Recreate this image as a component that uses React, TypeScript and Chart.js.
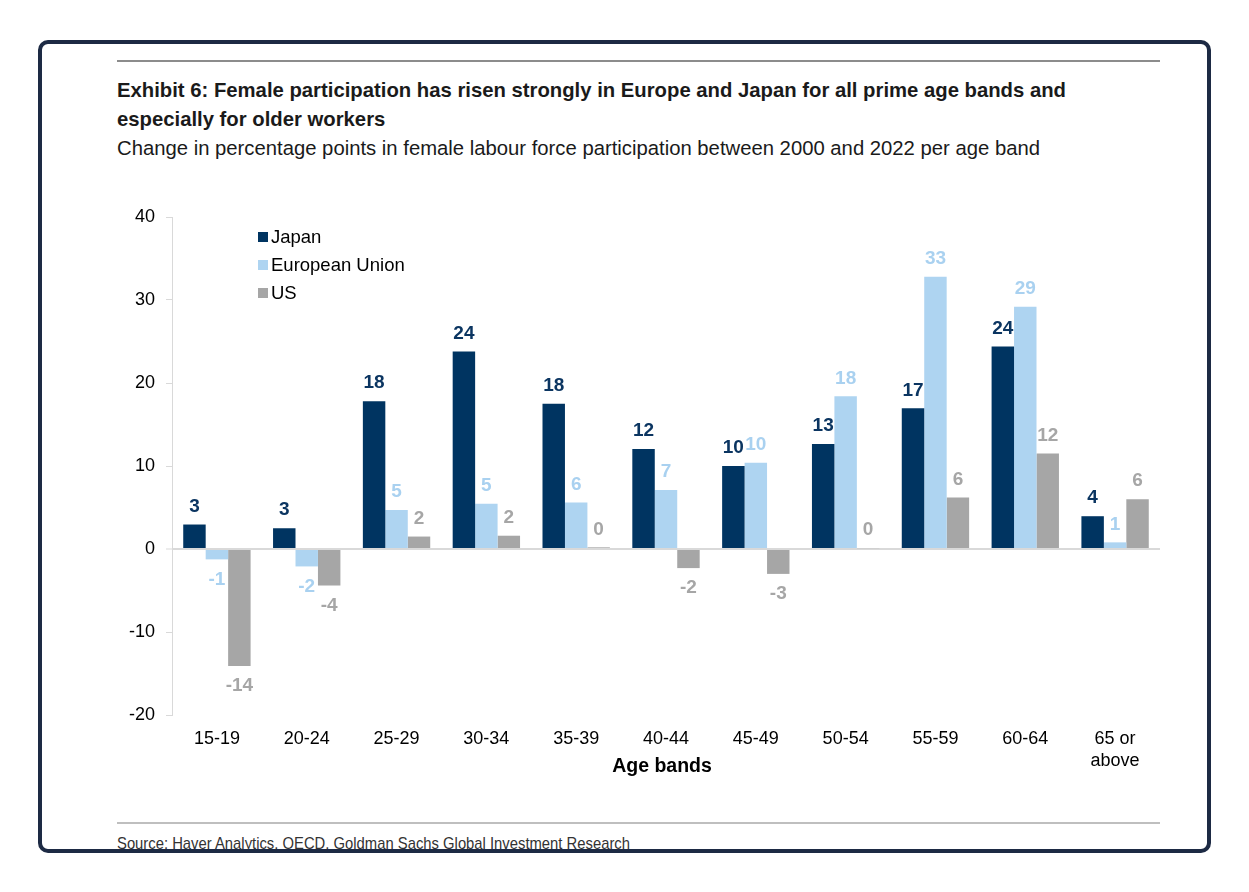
import React, { useEffect, useLayoutEffect, useRef } from "react";
import { Chart, registerables } from "chart.js";

Chart.register(...registerables);

const categories: (string | string[])[] = [
  "15-19", "20-24", "25-29", "30-34", "35-39", "40-44", "45-49", "50-54", "55-59", "60-64", ["65 or", "above"],
];
const japan = [2.95, 2.5, 17.8, 23.8, 17.5, 12.05, 10.0, 12.65, 16.95, 24.4, 3.95];
const eu = [-1.25, -2.1, 4.7, 5.45, 5.6, 7.1, 10.4, 18.4, 32.8, 29.2, 0.8];
const us = [-14.1, -4.4, 1.5, 1.6, 0.2, -2.3, -3.0, 0.1, 6.2, 11.5, 6.0];
const seriesNames = ["Japan", "European Union", "US"];
const barColors = ["#003461", "#AED4F1", "#A6A6A6"];
const labelColors = ["#0B3561", "#A9D1F0", "#A6A6A6"];
const yTicks = [-20, -10, 0, 10, 20, 30, 40];

const titleLines = [
  "Exhibit 6: Female participation has risen strongly in Europe and Japan for all prime age bands and",
  "especially for older workers",
];
const subtitleText =
  "Change in percentage points in female labour force participation between 2000 and 2022 per age band";
const sourceText = "Source: Haver Analytics, OECD, Goldman Sachs Global Investment Research";

const SANS = '"Liberation Sans", Arial, Helvetica, sans-serif';

const overlayPlugin = {
  id: "overlay",
  afterDatasetsDraw(chart: any) {
    const ctx = chart.ctx as CanvasRenderingContext2D;
    const area = chart.chartArea;
    ctx.save();
    ctx.font = `bold 19px ${SANS}`;
    ctx.textAlign = "center";
    ctx.textBaseline = "middle";
    chart.data.datasets.forEach((ds: any, di: number) => {
      const meta = chart.getDatasetMeta(di);
      meta.data.forEach((bar: any, i: number) => {
        const v = ds.data[i] as number;
        let r = Math.round(v);
        if (Object.is(r, -0)) r = 0;
        ctx.fillStyle = labelColors[di];
        if (v >= 0) ctx.fillText(String(r), bar.x, bar.y - 18);
        else ctx.fillText(String(r), bar.x, bar.y + 20);
      });
    });
    ctx.font = `18.5px ${SANS}`;
    ctx.textAlign = "left";
    seriesNames.forEach((name, i) => {
      const y = area.top + 20 + i * 28;
      const x = area.left + 86;
      ctx.fillStyle = barColors[i];
      ctx.fillRect(x, y - 5, 10, 10);
      ctx.fillStyle = "#000";
      ctx.fillText(name, x + 13, y + 1);
    });
    ctx.font = `bold 19.5px ${SANS}`;
    ctx.textAlign = "center";
    ctx.fillStyle = "#000";
    ctx.fillText("Age bands", (area.left + area.right) / 2 - 4, area.bottom + 52);
    ctx.restore();
  },
};

function FitLines(props: { lines: string[]; target: number; style: React.CSSProperties }) {
  const ref = useRef<HTMLDivElement>(null);
  useLayoutEffect(() => {
    const el = ref.current;
    if (!el) return;
    el.style.transform = "none";
    const span = el.querySelector("span") as HTMLElement;
    const w = span.getBoundingClientRect().width;
    if (w > 0) el.style.transform = `scaleX(${props.target / w})`;
  }, []);
  return (
    <div ref={ref} style={{ ...props.style, transformOrigin: "left top", whiteSpace: "nowrap" }}>
      {props.lines.map((l, i) => (
        <div key={i}>
          <span>{l}</span>
        </div>
      ))}
    </div>
  );
}

export default function App() {
  const canvasRef = useRef<HTMLCanvasElement>(null);

  useEffect(() => {
    if (!canvasRef.current) return;
    const chart = new Chart(canvasRef.current, {
      type: "bar",
      data: {
        labels: categories as any,
        datasets: [
          { label: seriesNames[0], data: japan, backgroundColor: barColors[0] },
          { label: seriesNames[1], data: eu, backgroundColor: barColors[1] },
          { label: seriesNames[2], data: us, backgroundColor: barColors[2] },
        ],
      },
      options: {
        animation: false,
        responsive: true,
        maintainAspectRatio: false,
        layout: { padding: { top: 17, right: 15, left: 0, bottom: 0 } },
        datasets: { bar: { categoryPercentage: 0.75, barPercentage: 1 } },
        plugins: {
          legend: { display: false },
          tooltip: { enabled: false },
          title: { display: false },
        },
        scales: {
          x: {
            grid: { display: false, drawTicks: false },
            border: { display: false },
            ticks: {
              color: "#000",
              font: { size: 18, family: SANS, lineHeight: 1.22 },
              padding: 13,
              maxRotation: 0,
              autoSkip: false,
            },
            afterFit: (scale: any) => {
              scale.height = 75;
              scale.paddingLeft = 0;
              scale.paddingRight = 0;
            },
          },
          y: {
            min: -20,
            max: 40,
            afterBuildTicks: (scale: any) => {
              scale.ticks = yTicks.map((v) => ({ value: v }));
            },
            grid: {
              drawOnChartArea: true,
              color: (c: any) => (c.tick && c.tick.value === 0 ? "#D9D9D9" : "rgba(0,0,0,0)"),
              lineWidth: (c: any) => (c.tick && c.tick.value === 0 ? 2 : 1),
              tickColor: "#D9D9D9",
              tickLength: 6,
              tickWidth: 1,
            },
            border: { display: true, color: "#D9D9D9", width: 1 },
            ticks: {
              color: "#000",
              font: { size: 18, family: SANS },
              padding: 11,
            },
            afterFit: (scale: any) => {
              scale.width = 72;
              scale.paddingTop = 0;
              scale.paddingBottom = 0;
            },
          },
        },
      },
      plugins: [overlayPlugin],
    });
    return () => chart.destroy();
  }, []);

  return (
    <div style={{ position: "absolute", left: 0, top: 0, width: 1249, height: 892, background: "#fff" }}>
      <div
        style={{
          position: "absolute",
          left: 38,
          top: 40,
          width: 1173,
          height: 813,
          border: "4.5px solid #1D2A44",
          borderRadius: 10,
          boxSizing: "border-box",
        }}
      />
      <div style={{ position: "absolute", left: 117, top: 60, width: 1043, height: 1.5, background: "#8C8C8C" }} />
      <FitLines
        lines={titleLines}
        target={949}
        style={{
          position: "absolute",
          left: 117,
          top: 75,
          fontFamily: SANS,
          fontWeight: "bold",
          fontSize: 21,
          lineHeight: "29px",
          color: "#1A1A1A",
        }}
      />
      <FitLines
        lines={[subtitleText]}
        target={923}
        style={{
          position: "absolute",
          left: 117,
          top: 135,
          fontFamily: SANS,
          fontSize: 20.5,
          lineHeight: "26px",
          color: "#1A1A1A",
        }}
      />
      <div style={{ position: "absolute", left: 100, top: 200, width: 1075, height: 590 }}>
        <canvas ref={canvasRef} />
      </div>
      <div style={{ position: "absolute", left: 117, top: 822, width: 1043, height: 2, background: "#BFBFBF" }} />
      <div style={{ position: "absolute", left: 117, top: 830, width: 1000, height: 19, overflow: "hidden" }}>
        <FitLines
          lines={[sourceText]}
          target={513}
          style={{
            position: "absolute",
            left: 0,
            top: 4,
            fontFamily: SANS,
            fontSize: 17,
            lineHeight: "20px",
            color: "#333",
          }}
        />
      </div>
    </div>
  );
}
